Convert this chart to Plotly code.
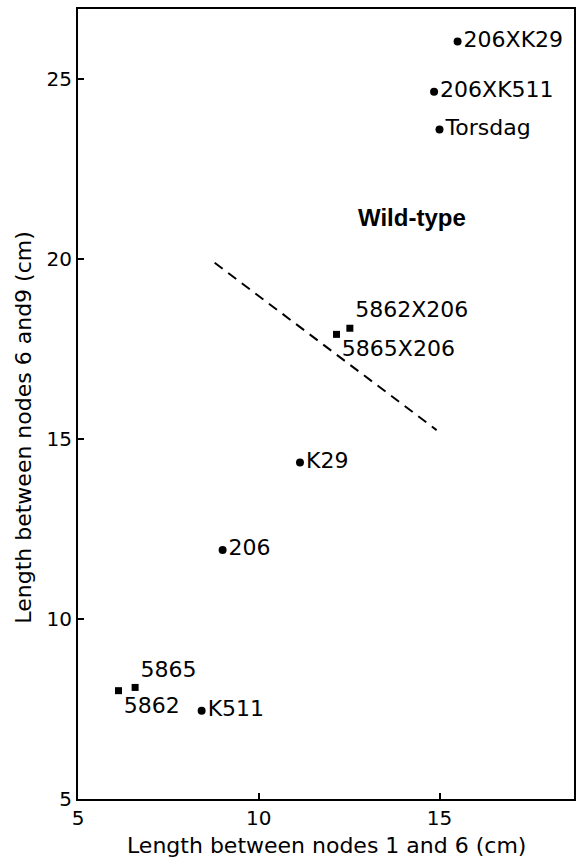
import plotly.graph_objects as go

# data
circle_names = ["206XK29", "206XK511", "Torsdag", "K29", "206", "K511"]
circle_x = [15.5, 14.85, 15.0, 11.14, 9.0, 8.42]
circle_y = [26.05, 24.65, 23.6, 14.35, 11.92, 7.45]
circle_pos = ["middle right"] * 6

square_names = ["5862X206", "5865X206", "5865", "5862"]
square_x = [12.52, 12.15, 6.58, 6.12]
square_y = [18.08, 17.91, 8.1, 8.01]
square_pos = ["top right", "bottom right", "top right", "bottom right"]

line_x = [8.78, 14.92]
line_y = [19.9, 15.25]

x_ticks = [5, 10, 15]
y_ticks = [5, 10, 15, 20, 25]

FONT = "DejaVu Sans"

fig = go.Figure()
fig.add_trace(go.Scatter(
    x=line_x, y=line_y, mode="lines",
    line=dict(color="black", width=2, dash="10px,7px"),
    hoverinfo="skip", showlegend=False))
fig.add_trace(go.Scatter(
    x=circle_x, y=circle_y, mode="markers+text", text=circle_names,
    textposition=circle_pos,
    textfont=dict(family=FONT, size=22, color="black"),
    marker=dict(symbol="circle", size=8, color="black"),
    showlegend=False))
fig.add_trace(go.Scatter(
    x=square_x, y=square_y, mode="markers+text", text=square_names,
    textposition=square_pos,
    textfont=dict(family=FONT, size=22, color="black"),
    marker=dict(symbol="square", size=7, color="black"),
    showlegend=False))

fig.add_annotation(x=12.7, y=21.15, xref="x", yref="y", text="<b>Wild-type</b>",
                   showarrow=False, xanchor="left", yanchor="middle",
                   font=dict(family="Liberation Sans", size=24, color="black"))

fig.add_annotation(x=0.5, y=-0.0593, xref="paper", yref="paper",
                   text="Length between nodes 1 and 6 (cm)", showarrow=False,
                   xanchor="center", yanchor="middle",
                   font=dict(family=FONT, size=22, color="black"))
fig.add_annotation(x=-0.109, y=0.47, xref="paper", yref="paper",
                   text="Length between nodes 6 and9 (cm)", showarrow=False,
                   textangle=-90, xanchor="center", yanchor="middle",
                   font=dict(family=FONT, size=22, color="black"))

axis_common = dict(showgrid=False, zeroline=False, showline=True, mirror=True,
                   linecolor="black", linewidth=2, ticks="inside", ticklen=6,
                   tickwidth=1.5, tickcolor="black",
                   tickfont=dict(family=FONT, size=20, color="black"))

fig.update_xaxes(range=[5, 18.72], tickvals=x_ticks, **axis_common)
fig.update_yaxes(range=[5, 26.95], tickvals=y_ticks, **axis_common)

fig.update_layout(
    width=585, height=859,
    margin=dict(l=78, r=11, t=7, b=60),
    paper_bgcolor="white", plot_bgcolor="white",
    showlegend=False,
)

fig.write_html("out.html")
